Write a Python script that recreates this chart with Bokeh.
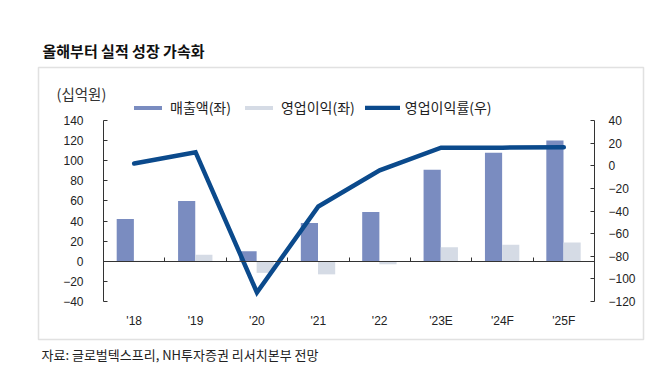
from bokeh.plotting import figure
from bokeh.models import (Range1d, LinearAxis, SingleIntervalTicker, FixedTicker, Label, Legend,
                          LegendItem, BoxAnnotation, ColumnDataSource)
from bokeh.transform import dodge
from bokeh.embed import file_html
from bokeh.resources import INLINE

# ---- data ----
categories = ["'18", "'19", "'20", "'21", "'22", "'23E", "'24F", "'25F"]
sales = [42, 60, 10, 38, 49, 91, 108, 120]               # 매출액(좌), 십억원
op_profit = [0.5, 6.5, -11.5, -13, -3, 14, 16.4, 18.7]   # 영업이익(좌), 십억원
op_margin = [2, 12, -112, -36, -4, 16, 16, 16.4]          # 영업이익률(우), %

left_range = (-40, 140)
right_range = (-120, 40)

title_text = "올해부터 실적 성장 가속화"
unit_text = "(십억원)"
source_text = "자료: 글로벌텍스프리, NH투자증권 리서치본부 전망"
legend_labels = ["매출액(좌)", "영업이익(좌)", "영업이익률(우)"]

# ---- styles / layout (pixels) ----
SALES_COLOR = "#7a8cc0"
OP_COLOR = "#d5dbe5"
LINE_COLOR = "#0b4a8c"
TEXT_COLOR = "#222222"
AXIS_COLOR = "#333333"
NUM_FONT = "Liberation Sans"
KR_FONT = "Noto Sans CJK KR"

W, H = 650, 370
PLOT_L, PLOT_R, PLOT_T, PLOT_B = 103, 594, 120, 301   # plot area in canvas pixels

n = len(categories)
xpos = list(range(n))
px_per_cat = (PLOT_R - PLOT_L) / n
x0 = -0.5 - PLOT_L / px_per_cat
x1 = x0 + W / px_per_cat


def y_limits(lo, hi):
    k = (hi - lo) / (PLOT_B - PLOT_T)
    return lo - (H - PLOT_B) * k, hi + PLOT_T * k


src = ColumnDataSource(dict(x=xpos, sales=sales, op=op_profit, margin=op_margin))

p = figure(width=W, height=H, x_range=Range1d(x0, x1), y_range=Range1d(*y_limits(*left_range)),
           output_backend="svg", toolbar_location=None,
           min_border_left=0, min_border_right=0, min_border_top=0, min_border_bottom=0)
p.extra_y_ranges = {"right": Range1d(*y_limits(*right_range))}
p.outline_line_color = None
p.xgrid.grid_line_color = None
p.ygrid.grid_line_color = None
p.background_fill_color = "white"
p.border_fill_color = "white"

# bars
r_sales = p.vbar(x=dodge("x", -0.145), top="sales", bottom=0, width=0.28,
                 source=src, fill_color=SALES_COLOR, line_color=None)
r_op = p.vbar(x=dodge("x", 0.135), top="op", bottom=0, width=0.28,
              source=src, fill_color=OP_COLOR, line_color=None)

# margin line
r_line = p.line(x="x", y="margin", source=src, y_range_name="right", line_color=LINE_COLOR,
                line_width=4.5, line_join="miter", line_cap="round")

# ---- axes (drawn at fixed locations inside the canvas) ----
cat_edges = (-0.5, n - 0.5)

# category labels
xa = p.xaxis[0]
xa.fixed_location = left_range[0]
xa.ticker = FixedTicker(ticks=xpos)
xa.major_label_overrides = {i: c for i, c in zip(xpos, categories)}
xa.axis_line_color = None
xa.major_tick_line_color = None
xa.minor_tick_line_color = None
xa.major_label_standoff = 6
xa.major_label_text_font = NUM_FONT
xa.major_label_text_font_size = "12px"
xa.major_label_text_color = TEXT_COLOR

# zero line with category boundary ticks
za = LinearAxis(fixed_location=0, bounds=cat_edges,
                ticker=FixedTicker(ticks=[i + 0.5 for i in xpos[:-1]]))
za.axis_line_color = AXIS_COLOR
za.major_tick_line_color = AXIS_COLOR
za.major_tick_in = 4
za.major_tick_out = 0
za.minor_tick_line_color = None
za.major_label_text_font_size = "0px"
za.major_label_text_alpha = 0
p.add_layout(za, "below")

ya = p.yaxis[0]
ya.fixed_location = cat_edges[0]
ya.bounds = left_range
ya.ticker = SingleIntervalTicker(interval=20)
ya.axis_line_color = AXIS_COLOR
ya.major_tick_line_color = AXIS_COLOR
ya.major_tick_in = 4
ya.major_tick_out = 0
ya.minor_tick_line_color = None
ya.major_label_standoff = 16
ya.major_label_text_font = NUM_FONT
ya.major_label_text_font_size = "12px"
ya.major_label_text_color = TEXT_COLOR

ry = LinearAxis(y_range_name="right", fixed_location=cat_edges[1], bounds=right_range,
                ticker=SingleIntervalTicker(interval=20))
ry.axis_line_color = AXIS_COLOR
ry.major_tick_line_color = AXIS_COLOR
ry.major_tick_in = 4
ry.major_tick_out = 0
ry.minor_tick_line_color = None
ry.major_label_standoff = 10
ry.major_label_text_font = NUM_FONT
ry.major_label_text_font_size = "12px"
ry.major_label_text_color = TEXT_COLOR
p.add_layout(ry, "right")

# legend
legend = Legend(items=[LegendItem(label=legend_labels[0], renderers=[r_sales]),
                       LegendItem(label=legend_labels[1], renderers=[r_op]),
                       LegendItem(label=legend_labels[2], renderers=[r_line])],
                location=(130, H - 117), orientation="horizontal",
                glyph_width=35, glyph_height=5, label_height=18, label_standoff=5, spacing=10,
                padding=0, margin=0, border_line_color=None, background_fill_alpha=0,
                label_text_font=KR_FONT, label_text_font_size="14px", label_text_color=TEXT_COLOR)
p.add_layout(legend)

# box around the chart
p.add_layout(BoxAnnotation(left=38, right=643, top=H - 67, bottom=H - 339,
                           left_units="screen", right_units="screen",
                           top_units="screen", bottom_units="screen",
                           fill_alpha=0, line_color="#9a9a9a", line_width=1.5))

# texts
p.add_layout(Label(x=42, y=H - 50, x_units="screen", y_units="screen", text=title_text,
                   text_font=KR_FONT, text_font_size="15px", text_font_style="bold",
                   text_color="#111111", text_baseline="middle"))
p.add_layout(Label(x=56, y=H - 93, x_units="screen", y_units="screen", text=unit_text,
                   text_font=KR_FONT, text_font_size="14.5px", text_color="#333333",
                   text_baseline="middle"))
p.add_layout(Label(x=41, y=H - 354, x_units="screen", y_units="screen", text=source_text,
                   text_font=KR_FONT, text_font_size="13px", text_color="#222222",
                   text_baseline="middle"))

open("out.html", "w").write(file_html(p, INLINE))
